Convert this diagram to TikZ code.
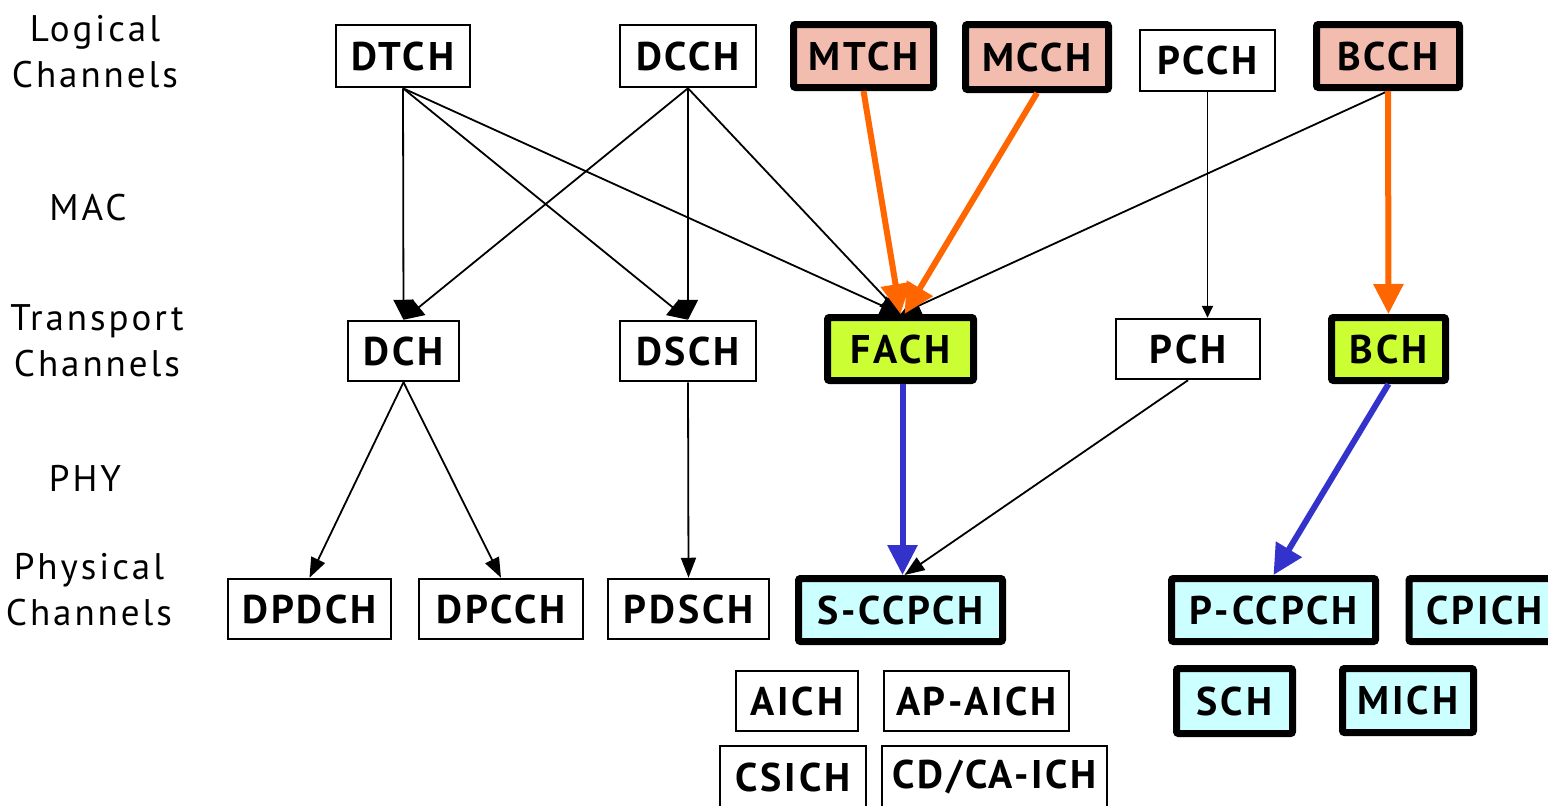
\documentclass[tikz,border=0pt]{standalone}
\usepackage{fontspec}
\setmainfont{PT Sans}
\newfontfamily\boxfont{PT Sans}[LetterSpace=7]
\newfontfamily\layerfont{PT Sans}[LetterSpace=8]
\usetikzlibrary{arrows.meta}
\definecolor{logicfill}{HTML}{F2BCAE}
\definecolor{transfill}{HTML}{CCFF33}
\definecolor{physfill}{HTML}{CCFFFF}
\definecolor{orangeline}{HTML}{FF6600}
\definecolor{blueline}{HTML}{3333CC}
\begin{document}
\begin{tikzpicture}[x=1pt,y=-1pt,
  plainbox/.style={draw, line width=2.5pt, inner sep=0pt,
    font=\boxfont\bfseries\fontsize{40}{40}\selectfont},
  chbox/.style={draw, line width=7pt, rounded corners=2pt, inner sep=0pt,
    font=\boxfont\bfseries\fontsize{40}{40}\selectfont},
  logicbox/.style={chbox, fill=logicfill},
  transbox/.style={chbox, fill=transfill},
  physbox/.style={chbox, fill=physfill},
  layer/.style={align=center, font=\layerfont\fontsize{37}{46}\selectfont},
  thinarrow/.style={line width=1.8pt, -{Triangle[length=20pt,width=15pt]}},
  wideheadarrow/.style={line width=1.8pt, -{Triangle[length=20pt,width=20pt]}},
  smallarrow/.style={line width=1.8pt, -{Triangle[length=12pt,width=11pt]}},
  orangearrow/.style={draw=orangeline, line width=6pt, -{Triangle[length=30pt,width=29pt]}},
  bluearrow/.style={draw=blueline, line width=6pt, -{Triangle[length=30pt,width=29pt]}}]

\useasboundingbox (0,0) rectangle (1548,806);
\fill[white] (0,0) rectangle (1548,806);

% layer captions
\node[layer] (lblLogical) at (95,52) {Logical\\Channels};
\node[layer] (lblMac) at (88,208) {MAC};
\node[layer] (lblTransport) at (97,341) {Transport\\Channels};
\node[layer] (lblPhy) at (85,478) {PHY};
\node[layer] (lblPhysical) at (89,590) {Physical\\Channels};

% logical channels
\node[plainbox, minimum width=134, minimum height=62] (dtch) at (403,56) {DTCH};
\node[plainbox, minimum width=136, minimum height=62] (dcch) at (688,56) {DCCH};
\node[logicbox, minimum width=140, minimum height=63] (mtch) at (863.5,56) {MTCH};
\node[logicbox, minimum width=143, minimum height=65] (mcch) at (1037,57) {MCCH};
\node[plainbox, minimum width=135, minimum height=61] (pcch) at (1207.5,60.5) {PCCH};
\node[logicbox, minimum width=143, minimum height=63] (bcch) at (1388,56) {BCCH};

% transport channels
\node[plainbox, minimum width=111, minimum height=60] (dch) at (403.5,351) {DCH};
\node[plainbox, minimum width=136, minimum height=60] (dsch) at (688,351) {DSCH};
\node[transbox, minimum width=146, minimum height=63] (fach) at (900.5,349) {FACH};
\node[plainbox, minimum width=144, minimum height=60] (pch) at (1188,349) {PCH};
\node[transbox, minimum width=114, minimum height=63] (bch) at (1388.5,349) {BCH};

% physical channels
\node[plainbox, minimum width=163, minimum height=60] (dpdch) at (309.5,609) {DPDCH};
\node[plainbox, minimum width=164, minimum height=60] (dpcch) at (501,609) {DPCCH};
\node[plainbox, minimum width=161, minimum height=60] (pdsch) at (688.5,609) {PDSCH};
\node[physbox, minimum width=204, minimum height=63] (sccpch) at (900.5,610) {S-CCPCH};
\node[physbox, minimum width=204, minimum height=63] (pccpch) at (1273.5,610) {P-CCPCH};
\node[physbox, minimum width=151, minimum height=63, anchor=west] (cpich) at (1405.5,610) {CPICH};
\node[physbox, minimum width=116, minimum height=65] (sch) at (1234.5,701) {SCH};
\node[physbox, minimum width=131, minimum height=64] (mich) at (1408,700.5) {MICH};
\node[plainbox, minimum width=122, minimum height=60] (aich) at (797,701) {AICH};
\node[plainbox, minimum width=185, minimum height=60] (apaich) at (976.5,701) {AP-AICH};
\node[plainbox, minimum width=146, minimum height=62] (csich) at (793,777) {CSICH};
\node[plainbox, minimum width=225, minimum height=62] (cdcaich) at (994.5,777) {CD/CA-ICH};

% logical to transport mapping
\draw[wideheadarrow] (dtch.south) -- (dch.north);
\draw[wideheadarrow] (dtch.south) -- (dsch.north);
\draw[wideheadarrow] (dtch.south) -- (fach.north);
\draw[wideheadarrow] (dcch.south) -- (dch.north);
\draw[wideheadarrow] (dcch.south) -- (dsch.north);
\draw[wideheadarrow] (dcch.south) -- (fach.north);
\draw[wideheadarrow] (bcch.south) -- (fach.north);
\draw[smallarrow] (pcch.south) -- (pcch.south |- pch.north);
\draw[orangearrow] (mtch.south) -- (fach.north);
\draw[orangearrow] (mcch.south) -- ([xshift=4pt]fach.north);
\draw[orangearrow] (bcch.south) -- (bch.north);

% transport to physical mapping
\draw[thinarrow] (dch.south) -- (dpdch.north);
\draw[thinarrow] (dch.south) -- (dpcch.north);
\draw[thinarrow] (dsch.south) -- (pdsch.north);
\draw[thinarrow] (pch.south) -- ([xshift=4pt]sccpch.north);
\draw[bluearrow] ([xshift=2pt]fach.south) -- ([xshift=2pt]sccpch.north);
\draw[bluearrow] (bch.south) -- (pccpch.north);
\end{tikzpicture}
\end{document}
